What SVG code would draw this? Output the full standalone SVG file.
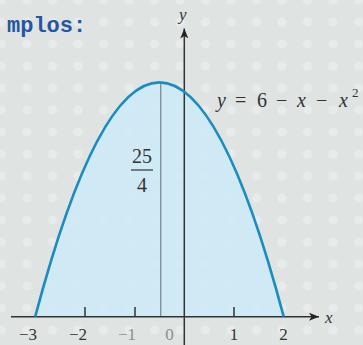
<svg xmlns="http://www.w3.org/2000/svg" width="363" height="345" viewBox="0 0 363 345">
  <style>
    .axis { stroke: #333; stroke-width: 1.5; fill: none; }
    .tick { stroke: #333; stroke-width: 1.5; }
  </style>
  <defs>
    <pattern id="dots" patternUnits="userSpaceOnUse" x="-11.25" y="-11" width="25.5" height="22">
      <circle cx="12.75" cy="11" r="4.6" fill="#e8ebeb"/>
    </pattern>
    <marker id="arrow" viewBox="0 0 10 8" refX="10" refY="4" markerWidth="10" markerHeight="8" markerUnits="userSpaceOnUse" orient="auto">
      <path d="M0,0 L10,4 L0,8 L2.5,4 Z" fill="#222"/>
    </marker>
  </defs>

  <g id="background">
    <rect width="363" height="345" fill="#dfe3e2"/>
    <rect width="363" height="345" fill="url(#dots)"/>
  </g>

  <g id="title">
    <text x="7" y="32" font-family="Liberation Mono, Courier New, monospace" font-size="22" font-weight="bold" fill="#2356a3">mplos:</text>
  </g>

  <g id="region">
    <path d="M35.2,316.7 Q159.45,-152.05 283.7,316.7 Z" fill="#cdeaf8" fill-opacity="0.85"/>
  </g>

  <g id="height-line">
    <line x1="160.7" y1="316.7" x2="160.7" y2="82.5" stroke="#7f8e93" stroke-width="1.3"/>
  </g>

  <g id="connectors">
    <line class="axis" x1="11" y1="316.7" x2="319" y2="316.7" marker-end="url(#arrow)"/>
    <line class="axis" x1="184.3" y1="345" x2="184.3" y2="28.5" marker-end="url(#arrow)"/>
    <line class="tick" x1="85" y1="307" x2="85" y2="316.7"/>
    <line class="tick" x1="135" y1="307" x2="135" y2="316.7"/>
    <line class="tick" x1="234" y1="307" x2="234" y2="316.7"/>
  </g>

  <g id="curve">
    <path d="M35.2,316.7 Q159.45,-152.05 283.7,316.7" fill="none" stroke="#1a8cc0" stroke-width="2.6"/>
  </g>

  <g id="axis-labels" font-family="Liberation Serif, Times New Roman, serif" font-style="italic" font-size="17" fill="#333">
    <text x="179" y="20">y</text>
    <text x="325" y="323">x</text>
  </g>

  <g id="tick-labels" font-family="Liberation Serif, Times New Roman, serif" font-size="17" text-anchor="middle" fill="#333">
    <text x="28" y="340">−3</text>
    <text x="78" y="340">−2</text>
    <text x="127" y="340" fill="#8a8f90">−1</text>
    <text x="169.5" y="340" fill="#8a8f90">0</text>
    <text x="234" y="340">1</text>
    <text x="283.5" y="340">2</text>
  </g>

  <g id="equation">
    <text font-family="Liberation Serif, Times New Roman, serif" font-size="20" y="107" fill="#333">
      <tspan font-style="italic" x="217">y</tspan>
      <tspan x="235">=</tspan>
      <tspan x="257">6</tspan>
      <tspan x="276">−</tspan>
      <tspan font-style="italic" x="297">x</tspan>
      <tspan x="316">−</tspan>
      <tspan font-style="italic" x="339">x</tspan>
      <tspan x="352" y="97" font-size="13">2</tspan>
    </text>
  </g>

  <g id="fraction" font-family="Liberation Serif, Times New Roman, serif" font-size="20" fill="#333">
    <text x="142" y="163" text-anchor="middle">25</text>
    <line x1="131" y1="170" x2="153" y2="170" stroke="#333" stroke-width="1.2"/>
    <text x="142" y="192" text-anchor="middle">4</text>
  </g>
</svg>
